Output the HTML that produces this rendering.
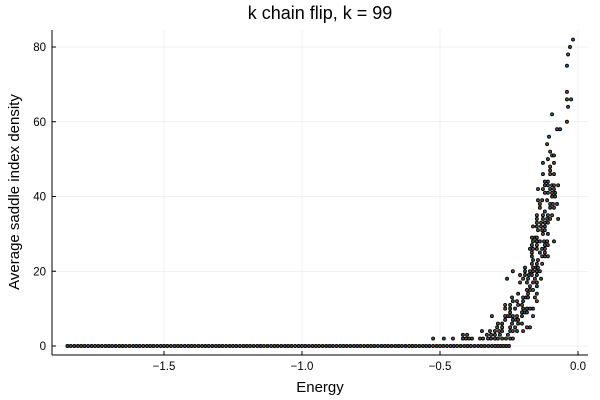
<!DOCTYPE html>
<html><head><meta charset="utf-8"><style>
body{margin:0;background:#fff}
svg{display:block;font-family:"Liberation Sans",sans-serif}
</style></head><body>
<svg id="chart" width="600" height="400">
<text x="320" y="19" text-anchor="middle" font-size="18" fill="#000">k chain flip, k = 99</text>
<text x="320" y="392" text-anchor="middle" font-size="15">Energy</text>
<text transform="translate(19,192) rotate(-90)" text-anchor="middle" font-size="15">Average saddle index density</text>
<g id="grid"></g>
<g id="axes"></g>
<g id="points"></g>
</svg>
<script>
const xTicks=[-1.5,-1.0,-0.5,0.0];
const xTickLabels=["\u22121.5","\u22121.0","\u22120.5","0.0"];
const yTicks=[0,20,40,60,80];
const yTickLabels=["0","20","40","60","80"];
const baselineEnergies=[-1.85,-1.838,-1.825,-1.812,-1.8,-1.788,-1.775,-1.762,-1.75,-1.738,-1.725,-1.712,-1.7,-1.688,-1.675,-1.662,-1.65,-1.638,-1.625,-1.612,-1.6,-1.588,-1.575,-1.562,-1.55,-1.538,-1.525,-1.512,-1.5,-1.488,-1.475,-1.462,-1.45,-1.438,-1.425,-1.412,-1.4,-1.388,-1.375,-1.362,-1.35,-1.338,-1.325,-1.312,-1.3,-1.288,-1.275,-1.262,-1.25,-1.238,-1.225,-1.212,-1.2,-1.188,-1.175,-1.162,-1.15,-1.138,-1.125,-1.112,-1.1,-1.088,-1.075,-1.062,-1.05,-1.038,-1.025,-1.012,-1.0,-0.988,-0.975,-0.962,-0.95,-0.938,-0.925,-0.912,-0.9,-0.888,-0.875,-0.862,-0.85,-0.838,-0.825,-0.812,-0.8,-0.788,-0.775,-0.762,-0.75,-0.738,-0.725,-0.712,-0.7,-0.688,-0.675,-0.662,-0.65,-0.638,-0.625,-0.612,-0.6,-0.588,-0.575,-0.562,-0.55,-0.538,-0.525,-0.512,-0.5,-0.488,-0.475,-0.462,-0.45,-0.438,-0.425,-0.412,-0.4,-0.388,-0.375,-0.362,-0.35,-0.338,-0.325,-0.312,-0.3,-0.29,-0.28,-0.27,-0.26,-0.25];
const saddleLevels=[2,3,4,5,6,7,8,9,10,11,12,13,14,15,16,17,18,19,20,21,22,23,24,25,26,27,28,29,30,31,32,33,34,35,36,37,38,39,40,41,42,43,44,46,47,48,49,50,51,52,54,56,58,60,62,64,66,68,75,78,80,82];
const energiesByLevel=[
[-0.525,-0.486,-0.453,-0.417,-0.406,-0.395,-0.384,-0.355,-0.344,-0.326,-0.315,-0.301,-0.29,-0.275,-0.261,-0.246,-0.236],
[-0.417,-0.402,-0.33,-0.315,-0.301,-0.283,-0.254],
[-0.348,-0.319,-0.301,-0.286,-0.275,-0.246,-0.236,-0.221,-0.199],
[-0.293,-0.275,-0.246,-0.228,-0.185,-0.174],
[-0.29,-0.275,-0.239,-0.217,-0.203],
[-0.264,-0.236,-0.225,-0.217],
[-0.312,-0.264,-0.254,-0.246,-0.236,-0.221,-0.203,-0.163],
[-0.246,-0.203,-0.192,-0.185],
[-0.264,-0.246,-0.228,-0.199,-0.185,-0.174,-0.163],
[-0.264,-0.246,-0.217,-0.203],
[-0.236,-0.221,-0.199,-0.149],
[-0.239,-0.199,-0.188,-0.181,-0.156],
[-0.217,-0.181,-0.149],
[-0.185,-0.174,-0.163],
[-0.174,-0.149],
[-0.21,-0.185,-0.163,-0.149],
[-0.257,-0.199,-0.181,-0.156,-0.134],
[-0.21,-0.192,-0.178,-0.167,-0.149],
[-0.236,-0.192,-0.174,-0.163,-0.149,-0.138],
[-0.192,-0.163,-0.152,-0.145],
[-0.167,-0.149,-0.13],
[-0.163,-0.145],
[-0.167,-0.13,-0.12,-0.109],
[-0.167,-0.138,-0.12],
[-0.174,-0.163,-0.149,-0.13,-0.12],
[-0.167,-0.149,-0.12,-0.109],
[-0.163,-0.149,-0.138,-0.123,-0.112,-0.087],
[-0.167,-0.156,-0.149],
[-0.127,-0.109],
[-0.145,-0.13,-0.12],
[-0.163,-0.149,-0.134,-0.12],
[-0.149,-0.134,-0.12,-0.109],
[-0.149,-0.127,-0.112,-0.101,-0.072],
[-0.149,-0.127,-0.109,-0.094],
[-0.12],
[-0.138,-0.101,-0.087],
[-0.138,-0.101,-0.091,-0.076],
[-0.145,-0.13,-0.112],
[-0.094,-0.083],
[-0.12,-0.109,-0.094,-0.083],
[-0.145,-0.127,-0.101,-0.087],
[-0.12,-0.109,-0.094,-0.087,-0.072],
[-0.12,-0.109],
[-0.127,-0.101,-0.087],
[-0.101],[-0.101],
[-0.127,-0.087],
[-0.109],
[-0.094,-0.087],
[-0.101],[-0.112],[-0.105],
[-0.076,-0.065],
[-0.04],[-0.094],[-0.036],
[-0.04,-0.025],
[-0.04],[-0.04],[-0.036],[-0.029],[-0.018]
];
const palette=["#1f5f8a","#8a4a34","#2f6a38","#6e4a7a","#6a5a1a","#1f6a6c","#8a3f5c"];
const NS="http://www.w3.org/2000/svg";
const L=52,R=588,T=30,B=355;
function xs(v){return 578+v*276;}
function ys(v){return 346-v*3.7375;}
const grid=document.getElementById('grid'),axes=document.getElementById('axes'),pts=document.getElementById('points');
function mk(tag,attrs,parent){const e=document.createElementNS(NS,tag);for(const k in attrs)e.setAttribute(k,attrs[k]);parent.appendChild(e);return e;}
xTicks.forEach((t,i)=>{
  const g=mk('line',{x1:xs(t),x2:xs(t),y1:T,y2:B,stroke:'#000','stroke-opacity':0.1,'stroke-width':0.6},grid);
  
  
  mk('line',{x1:xs(t),x2:xs(t),y1:B,y2:B-4,stroke:'#000','stroke-width':1},axes);
  const tx=mk('text',{x:xs(t),y:B+15,'text-anchor':'middle','font-size':11.5},axes);
  tx.textContent=xTickLabels[i];
  
  
});
yTicks.forEach((t,i)=>{
  const g=mk('line',{x1:L,x2:R,y1:ys(t),y2:ys(t),stroke:'#000','stroke-opacity':0.1,'stroke-width':0.6},grid);
  
  
  mk('line',{x1:L,x2:L+4,y1:ys(t),y2:ys(t),stroke:'#000','stroke-width':1},axes);
  const tx=mk('text',{x:L-6,y:ys(t)+4,'text-anchor':'end','font-size':11.5},axes);
  tx.textContent=yTickLabels[i];
  
  
});
mk('line',{x1:L,x2:R,y1:B,y2:B,stroke:'#000','stroke-width':1},axes);
mk('line',{x1:L,x2:L,y1:T,y2:B,stroke:'#000','stroke-width':1},axes);
let c=0;
function dot(x,y){
  const p=mk('circle',{cx:xs(x),cy:ys(y),r:1.5,fill:palette[c++%palette.length],stroke:'#000','stroke-width':0.9},pts);
  
  
}
baselineEnergies.forEach(x=>dot(x,0));
saddleLevels.forEach((y,i)=>energiesByLevel[i].forEach(x=>dot(x,y)));
</script>
</body></html>
